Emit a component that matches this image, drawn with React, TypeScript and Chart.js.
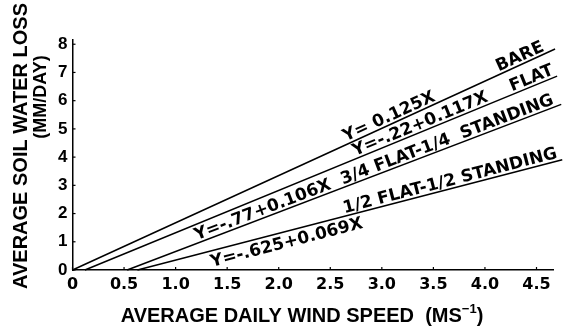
import React, { useEffect, useRef } from "react";
import { Chart, registerables } from "chart.js";

Chart.register(...registerables);

// ---- data ----
const xTicks = [0, 0.5, 1, 1.5, 2, 2.5, 3, 3.5, 4, 4.5];
const xTickLabels = ["0", "0.5", "1.0", "1.5", "2.0", "2.5", "3.0", "3.5", "4.0", "4.5"];
const yTicks = [0, 1, 2, 3, 4, 5, 6, 7, 8];
const yTickLabels = ["0", "1", "2", "3", "4", "5", "6", "7", "8"];

const seriesNames = ["BARE", "FLAT", "3/4 FLAT-1/4 STANDING", "1/2 FLAT-1/2 STANDING"];
const bareX = [0, 4.68];
const bareY = [0, 7.83];
const flatX = [0.12, 4.7];
const flatY = [0, 6.87];
const threeQuarterX = [0.53, 4.74];
const threeQuarterY = [0, 5.87];
const halfX = [0.63, 4.75];
const halfY = [0, 3.91];

const lineTexts = [
  "Y= 0.125X",
  "BARE",
  "Y=-.22+0.117X",
  "FLAT",
  "Y=-.77+0.106X  3/4 FLAT-1/4  STANDING",
  "1/2 FLAT-1/2 STANDING",
  "Y=-.625+0.069X",
];
const lineTextSeries = [0, 0, 1, 1, 2, 3, 3];
const lineTextAt = [3.1, 4.37, 3.4, 4.48, 2.95, 3.68, 2.05];
const lineTextSide = ["above", "above", "above", "above", "above", "above", "below"];

const yTitle = "AVERAGE SOIL WATER LOSS";
const yTitle2 = "(MM/DAY)";
const xTitle = "AVERAGE DAILY WIND SPEED  (MS";
const xTitleSup = "\u22121";
const xTitleEnd = ")";

const FONT = "'Liberation Sans', Arial, Helvetica, sans-serif";
const WIDE = "'DejaVu Sans', 'Liberation Sans', sans-serif";

const seriesX = [bareX, flatX, threeQuarterX, halfX];
const seriesY = [bareY, flatY, threeQuarterY, halfY];

export default function App() {
  const ref = useRef<HTMLCanvasElement | null>(null);

  useEffect(() => {
    document.body.style.margin = "0";
    const canvas = ref.current;
    if (!canvas) return;

    const annotate = {
      id: "annotate",
      afterDraw(chart: any) {
        const ctx = chart.ctx as CanvasRenderingContext2D;
        const xs = chart.scales.x;
        const ys = chart.scales.y;
        const area = chart.chartArea;
        ctx.save();
        ctx.fillStyle = "#000";
        ctx.strokeStyle = "#000";

        // inward tick marks
        ctx.lineWidth = 1.2;
        yTicks.forEach((v) => {
          const py = ys.getPixelForValue(v);
          ctx.beginPath();
          ctx.moveTo(area.left, py);
          ctx.lineTo(area.left + 3, py);
          ctx.stroke();
        });
        xTicks.forEach((v) => {
          const px = xs.getPixelForValue(v);
          ctx.beginPath();
          ctx.moveTo(px, area.bottom);
          ctx.lineTo(px, area.bottom - 3);
          ctx.stroke();
        });

        // line labels
        ctx.font = `bold 17px ${WIDE}`;
        lineTexts.forEach((t, i) => {
          const s = lineTextSeries[i];
          const xv = seriesX[s];
          const yv = seriesY[s];
          const p0x = xs.getPixelForValue(xv[0]);
          const p0y = ys.getPixelForValue(yv[0]);
          const p1x = xs.getPixelForValue(xv[1]);
          const p1y = ys.getPixelForValue(yv[1]);
          const ang = Math.atan2(p1y - p0y, p1x - p0x);
          const at = lineTextAt[i];
          const yAt = yv[0] + ((at - xv[0]) * (yv[1] - yv[0])) / (xv[1] - xv[0]);
          const px = xs.getPixelForValue(at);
          const py = ys.getPixelForValue(yAt);
          ctx.save();
          ctx.translate(px, py);
          ctx.rotate(ang);
          ctx.textAlign = "center";
          if (lineTextSide[i] === "above") {
            ctx.textBaseline = "alphabetic";
            ctx.fillText(t, 0, -3);
          } else {
            ctx.textBaseline = "top";
            ctx.fillText(t, 0, 3);
          }
          ctx.restore();
        });

        // y title
        ctx.textAlign = "center";
        ctx.textBaseline = "middle";
        ctx.save();
        ctx.translate(21, 146);
        ctx.rotate(-Math.PI / 2);
        ctx.font = `bold 20px ${FONT}`;
        ctx.fillText(yTitle, 0, 0);
        ctx.restore();
        ctx.save();
        ctx.translate(41, 97);
        ctx.rotate(-Math.PI / 2);
        ctx.font = `bold 18px ${FONT}`;
        ctx.fillText(yTitle2, 0, 0);
        ctx.restore();

        // x title with superscript
        ctx.textAlign = "left";
        ctx.textBaseline = "alphabetic";
        ctx.font = `bold 20px ${FONT}`;
        const w1 = ctx.measureText(xTitle).width;
        const w3 = ctx.measureText(xTitleEnd).width;
        ctx.font = `bold 13px ${FONT}`;
        const w2 = ctx.measureText(xTitleSup).width;
        const total = w1 + w2 + w3;
        let x0 = 302 - total / 2;
        const base = 322;
        ctx.font = `bold 20px ${FONT}`;
        ctx.fillText(xTitle, x0, base);
        x0 += w1;
        ctx.font = `bold 13px ${FONT}`;
        ctx.fillText(xTitleSup, x0, base - 9);
        x0 += w2;
        ctx.font = `bold 20px ${FONT}`;
        ctx.fillText(xTitleEnd, x0, base);
        ctx.restore();
      },
    };

    const datasets = seriesNames.map((name, i) => ({
      label: name,
      data: seriesX[i].map((x, j) => ({ x, y: seriesY[i][j] })),
      borderColor: "#000",
      borderWidth: 1.5,
      pointRadius: 0,
      fill: false,
      tension: 0,
      clip: false as any,
    }));

    const chart = new Chart(canvas, {
      type: "line",
      data: { datasets },
      options: {
        animation: false,
        responsive: false,
        events: [],
        layout: { padding: { left: 0, top: 40, right: 14, bottom: 0 } },
        plugins: { legend: { display: false }, tooltip: { enabled: false } },
        scales: {
          x: {
            type: "linear",
            min: 0,
            max: 4.66,
            afterBuildTicks: (scale: any) => {
              scale.ticks = xTicks.map((v) => ({ value: v }));
            },
            afterFit: (scale: any) => {
              scale.height = 57;
            },
            ticks: {
              autoSkip: false,
              maxRotation: 0,
              padding: 5,
              color: "#000",
              font: { family: WIDE, size: 16, weight: "bold" },
              callback: (_v: any, i: number) => xTickLabels[i],
            },
            grid: { display: true, drawOnChartArea: false, drawTicks: false },
            border: { display: true, color: "#000", width: 1.5 },
          },
          y: {
            type: "linear",
            min: 0,
            max: 8.15,
            afterBuildTicks: (scale: any) => {
              scale.ticks = yTicks.map((v) => ({ value: v }));
            },
            afterFit: (scale: any) => {
              scale.width = 72.5;
            },
            ticks: {
              autoSkip: false,
              padding: 5,
              color: "#000",
              font: { family: FONT, size: 17, weight: "bold" },
              callback: (_v: any, i: number) => yTickLabels[i],
            },
            grid: { display: true, drawOnChartArea: false, drawTicks: false },
            border: { display: true, color: "#000", width: 1.5 },
          },
        },
      },
      plugins: [annotate],
    });

    return () => chart.destroy();
  }, []);

  return (
    <div style={{ width: 567, height: 327, background: "#fff" }}>
      <canvas ref={ref} width={567} height={327} style={{ display: "block" }} />
    </div>
  );
}
